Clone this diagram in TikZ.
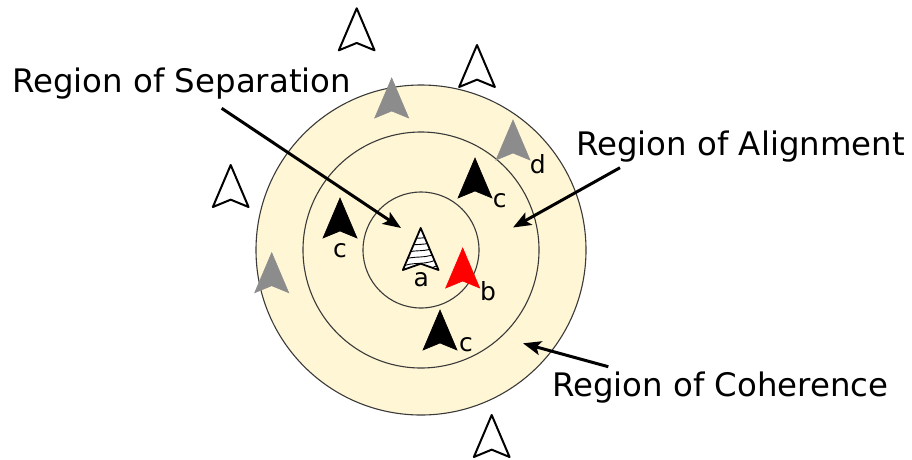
\documentclass[tikz,border=0pt]{standalone}
\usepackage{fontspec}
\setmainfont{DejaVu Sans}
\usetikzlibrary{arrows.meta}
\definecolor{cream}{HTML}{FFF6D5}
\definecolor{boidgray}{HTML}{8C8C8C}
\definecolor{ringline}{HTML}{3A3A3A}
\begin{document}
\begin{tikzpicture}[x=1pt,y=-1pt,
  ring/.style={draw=ringline,line width=1.1pt},
  boid/.pic={\path[pic actions] (0,0) -- (-17,40) -- (0,33) -- (17,40) -- cycle;},
  hatchboid/.pic={
    \fill[white] (0,0) -- (-17,40) -- (0,34) -- (17,40) -- cycle;
    \begin{scope}
      \clip (0,0) -- (-17,40) -- (0,34) -- (17,40) -- cycle;
      \foreach \k in {9,15,21,27,33,39}
        \draw[line width=0.9pt] (-20,\k+5) .. controls (-7,\k-3) and (5,\k+5) .. (20,\k-6);
    \end{scope}
    \draw[line width=1.8pt,line join=round] (0,0) -- (-17,40) -- (0,34) -- (17,40) -- cycle;},
  whiteboid/.style={draw=black,fill=white,line width=2pt,line join=round,scale=1.05},
  grayboid/.style={draw=boidgray,fill=boidgray,line width=0.6pt},
  blackboid/.style={draw=black,fill=black,line width=0.6pt},
  redboid/.style={draw=red,fill=red,line width=0.6pt},
  regionlabel/.style={anchor=base west,inner sep=0pt,font=\fontsize{32.4}{38}\selectfont},
  boidlabel/.style={inner sep=0pt,font=\fontsize{25}{30}\selectfont},
  pointer/.style={line width=3pt,-{Stealth[length=18pt,width=14pt,inset=4pt]}}
]
\useasboundingbox (0,0) rectangle (912,459);

% rings
\filldraw[ring,fill=cream] (421,250) circle[radius=165];
\draw[ring] (421,250) circle[radius=118];
\draw[ring] (421,250) circle[radius=58];

% outside (white) boids
\pic[whiteboid] at (356.7,8.3) {boid};
\pic[whiteboid] at (477,45) {boid};
\pic[whiteboid] at (230.7,165) {boid};
\pic[whiteboid] at (491.7,415) {boid};

% gray boids
\pic[grayboid] at (391.7,78) {boid};
\pic[grayboid] at (513,120) {boid};
\pic[grayboid] at (271.7,252.7) {boid};

% black boids
\pic[blackboid] at (475,158) {boid};
\pic[blackboid] at (340,198) {boid};
\pic[blackboid] at (440,310) {boid};

% focal boid a and neighbour b
\pic[scale=1.05] at (420.7,228) {hatchboid};
\pic[redboid] at (462.7,248) {boid};

% boid labels
\node[boidlabel] (la) at (421.2,280) {a};
\node[boidlabel] (lb) at (488,291) {b};
\node[boidlabel] (lc1) at (499.7,201) {c};
\node[boidlabel] (lc2) at (340,251) {c};
\node[boidlabel] (lc3) at (466,345) {c};
\node[boidlabel] (ld) at (537.7,164) {d};

% region labels
\node[regionlabel] (sep) at (12,92) {Region of Separation};
\node[regionlabel] (ali) at (576,155) {Region of Alignment};
\node[regionlabel] (coh) at (552,396.7) {Region of Coherence};

% pointers
\coordinate (sepS) at (221.7,108.3);
\coordinate (sepE) at (401,228);
\coordinate (aliS) at (620,167.7);
\coordinate (aliE) at (513,227.5);
\coordinate (cohS) at (608.3,366.7);
\coordinate (cohE) at (523,343.3);
\draw[pointer] (sepS) -- (sepE);
\draw[pointer] (aliS) -- (aliE);
\draw[pointer] (cohS) -- (cohE);
\end{tikzpicture}
\end{document}
